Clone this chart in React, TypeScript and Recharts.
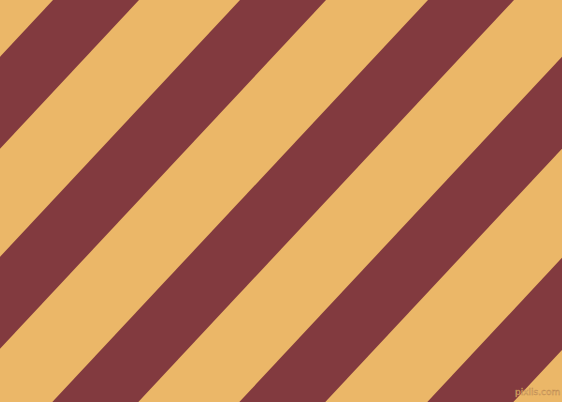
import { ComposedChart, Area, XAxis, YAxis } from 'recharts';

// where each maroon stripe crosses the top edge (px), and its horizontal width
const stripeStarts = [53, 240, 428, 615, 803];
const stripeWidth = 86;
const stripeSlope = 1.07;
const xEnds = [0, 562];

const GOLD = '#ebb768';
const MAROON = '#823a3f';

const data = xEnds.map((x) => {
  const row: any = { x };
  stripeStarts.forEach((c, i) => {
    row[`s${i}`] = [stripeSlope * (c - x), stripeSlope * (c + stripeWidth - x)];
  });
  return row;
});

export default function App() {
  return (
    <div
      style={{
        position: 'fixed',
        top: 0,
        left: 0,
        width: 562,
        height: 402,
        background: GOLD,
      }}
    >
      <ComposedChart
        width={562}
        height={402}
        data={data}
        margin={{ top: 0, right: 0, bottom: 0, left: 0 }}
      >
        <XAxis
          type='number'
          dataKey='x'
          domain={[0, 562]}
          allowDataOverflow
          hide
        />
        <YAxis type='number' domain={[0, 402]} reversed allowDataOverflow hide />
        {stripeStarts.map((_, i) => (
          <Area
            key={`s${i}`}
            type='linear'
            dataKey={`s${i}`}
            stroke='none'
            fill={MAROON}
            fillOpacity={1}
            isAnimationActive={false}
            dot={false}
            activeDot={false}
          />
        ))}
      </ComposedChart>
      <div
        style={{
          position: 'absolute',
          left: 515,
          top: 388,
          fontFamily: 'DejaVu Sans, sans-serif',
          fontSize: 9,
          color: '#f0c07a',
          WebkitTextStroke: '0.4px #b8864e',
          lineHeight: 1,
        }}
      >
        pixlis.com
      </div>
    </div>
  );
}
